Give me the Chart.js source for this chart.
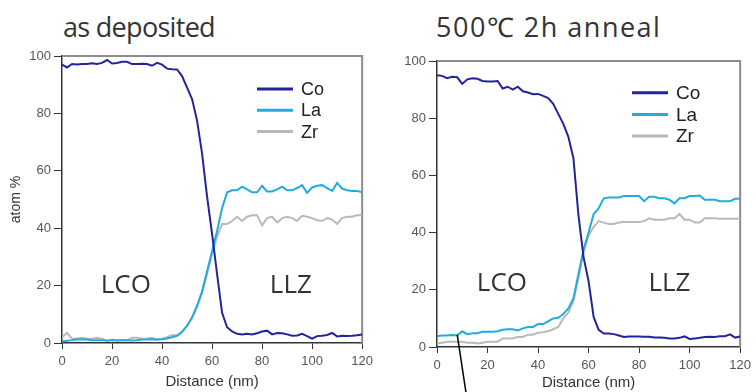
<!DOCTYPE html>
<html>
<head>
<meta charset="utf-8">
<script src="https://cdn.jsdelivr.net/npm/chart.js@4.4.0/dist/chart.umd.min.js"></script>
<style>
  html, body { margin: 0; padding: 0; background: #fff; }
  #wrap { position: relative; width: 756px; height: 392px; overflow: hidden; background: #fff; }
  canvas { position: absolute; top: 0; }
  .ttl { position: absolute; top: 13px; font-family: "Open Sans", sans-serif; font-size: 27px; line-height: 28px; color: #333; white-space: nowrap; }
</style>
</head>
<body>
<div id="wrap">
  <div class="ttl" id="t1" style="left:63px; letter-spacing:-0.7px;"></div>
  <div class="ttl" id="t2" style="left:436px; letter-spacing:1.5px;"></div>
  <canvas id="c1" width="378" height="392" style="left:0px;"></canvas>
  <canvas id="c2" width="378" height="392" style="left:378px;"></canvas>
</div>
<script>
// ---------- data ----------
const panelTitles = ["as deposited", "500\u2103 2h anneal"];
const seriesNames = ["Co", "La", "Zr"];
const regionNames = ["LCO", "LLZ"];
const xTitle = "Distance (nm)";
const yTitle = "atom %";

const distance = [0,2,4,6,8,10,12,14,16,18,20,22,24,26,28,30,32,34,36,38,40,42,44,46,48,50,52,54,56,58,60,62,64,66,68,70,72,74,76,78,80,82,84,86,88,90,92,94,96,98,100,102,104,106,108,110,112,114,116,118,120];

// as deposited
const coDep = [97,96,97.2,97,97.2,97.2,97.5,97.2,97.6,98.6,
               97.4,97.6,98,98,97.2,97.2,97.3,97.2,96.6,97.6,
               97,95.6,95.4,95.3,93,89,85,77.5,66,51,
               38,24,10.5,5.5,4,3.2,3,3.2,3,3.4,
               4,4.3,3,3.5,3.4,3,2.5,2.6,3.2,2.4,
               1.5,2.4,2.5,2.8,3.5,2.3,2.5,2.4,2.5,2.7,
               3];
const laDep = [0.5,0.8,1,1.3,1.2,1.2,1,1,1,0.8,
               1,0.9,1,1,0.9,1,1.2,1.2,1.3,1.1,
               1.3,1.6,2,2.5,3.8,6,9,13,18,25,
               32,39,47,52.5,53.2,53.2,54.5,53.5,52.5,52.5,
               54.8,52.8,52.8,53.5,54.5,53.2,53.2,54,55,52.3,
               54.2,54.8,55,54,53,55.8,53.8,53.2,53,53,
               52.5];
const zrDep = [2,3.5,1.5,1.5,1.8,1.5,1.5,1.8,1.5,0.8,
               1.2,1,1,1,1.8,1.8,1.5,1.6,1.8,1.3,
               1.5,2,2.8,2.6,4,6,8.5,12.5,17.5,24,
               31,37,41.5,41.5,42.5,44,42.5,44,44.5,44.5,
               41,43.5,44,42,43.5,44,43.5,42.5,44.3,44,
               43.5,42.8,42.5,43.5,43,41.5,43.5,44,44,44.5,
               44.5];

// 500C 2h anneal
const coAnn = [95,94.8,94,94.5,94.3,92,93.6,94,93.8,93,
               92.8,92.8,93,90.4,91,90,91,89.4,89,88.4,
               88.5,87.8,87,85,81.5,78,73.5,66,46,31.5,
               23,10.5,6,4.7,4.7,4.5,4,3.5,3.7,3.7,
               3.7,3.6,3.6,3.3,3.3,3.2,3,3,3.2,3.7,
               2.8,3,3.2,3.5,3.6,3.5,3.8,3.8,4.4,3.3,
               3.7];
const laAnn = [3.8,4,4,4.2,4,5.5,4.5,4.8,4.8,5.3,
               5.3,5.3,5.5,6,6.2,6.2,5.8,6.5,7,7,
               8,8,9,10,10.2,11.5,13.5,17,25.5,34,
               40,46.5,48.5,52,52.3,52.3,52.3,52.8,52.8,52.8,
               52.8,51,52.5,52.5,52,52,51.5,50.2,52,52,
               52.8,52.8,53,51.5,51.5,51.5,51,51,51,51.8,
               51.8];
const zrAnn = [1.2,1.5,1.8,1.8,1.8,1.8,1.5,1.5,1.2,1.5,
               1.8,1.8,1.8,3,3,3,3.5,3.5,4.3,4.3,
               5,5.2,5.5,6.2,7,10,12,16,24,33,
               39,42,44,43.5,43,43,43.5,43.7,43.7,43.7,
               43.7,44,45,44.5,44.5,44.5,45,45,46.5,44.5,
               44.5,43.5,43.5,45,45,45,44.8,44.8,44.8,44.8,
               44.8];

const xTicks = [0,20,40,60,80,100,120];
const yTicks = [0,20,40,60,80,100];

// ---------- styling ----------
const colors = ["#23239b", "#22abdc", "#b9b9b9"];

document.getElementById('t1').textContent = panelTitles[0];
document.getElementById('t2').textContent = panelTitles[1];

function pts(ys) { return distance.map((d, i) => ({ x: d, y: ys[i] })); }

const framePlugin = {
  id: 'frame',
  beforeDatasetsDraw(chart) {
    const { ctx, chartArea: a } = chart;
    ctx.save();
    ctx.strokeStyle = '#8c8c8c';
    ctx.lineWidth = 2;
    ctx.beginPath();
    ctx.moveTo(a.left, a.top);
    ctx.lineTo(a.right, a.top);
    ctx.lineTo(a.right, a.bottom);
    ctx.stroke();
    ctx.restore();
  }
};

const legendPlugin = {
  id: 'inLegend',
  afterDraw(chart, args, o) {
    const { ctx } = chart;
    ctx.save();
    chart.data.datasets.forEach((ds, i) => {
      const y = o.y + i * o.gap;
      ctx.strokeStyle = ds.borderColor;
      ctx.lineWidth = 3;
      ctx.beginPath();
      ctx.moveTo(o.x, y);
      ctx.lineTo(o.x + 36, y);
      ctx.stroke();
      ctx.fillStyle = '#222';
      ctx.font = o.size + 'px "Liberation Sans", Arial, sans-serif';
      ctx.textBaseline = 'middle';
      ctx.textAlign = 'left';
      ctx.fillText(ds.label, o.x + 44, y + 1);
    });
    ctx.restore();
  }
};

const regionPlugin = {
  id: 'regions',
  afterDraw(chart, args, o) {
    const { ctx, scales } = chart;
    ctx.save();
    ctx.fillStyle = '#333';
    ctx.font = '26px "Open Sans", sans-serif';
    ctx.textAlign = 'center';
    ctx.textBaseline = 'middle';
    o.items.forEach(it => {
      ctx.fillText(it.text, scales.x.getPixelForValue(it.x), scales.y.getPixelForValue(it.y));
    });
    ctx.restore();
  }
};

const pointerPlugin = {
  id: 'pointer',
  afterDraw(chart, args, o) {
    if (!o.show) return;
    const { ctx, scales } = chart;
    const px = scales.x.getPixelForValue(o.x), py = scales.y.getPixelForValue(o.y);
    ctx.save();
    ctx.strokeStyle = '#000';
    ctx.lineWidth = 1.5;
    ctx.beginPath();
    ctx.moveTo(px, py);
    ctx.lineTo(px + o.dx, chart.height + 2);
    ctx.stroke();
    ctx.restore();
  }
};

function makeChart(id, co, la, zr, cfg) {
  const tickFont = { family: '"Liberation Sans", Arial, sans-serif', size: 13 };
  return new Chart(document.getElementById(id), {
    type: 'line',
    data: {
      datasets: [
        { label: seriesNames[0], data: pts(co), borderColor: colors[0], borderWidth: 2, pointRadius: 0, tension: 0, order: 1 },
        { label: seriesNames[1], data: pts(la), borderColor: colors[1], borderWidth: 2, pointRadius: 0, tension: 0, order: 2 },
        { label: seriesNames[2], data: pts(zr), borderColor: colors[2], borderWidth: 2, pointRadius: 0, tension: 0, order: 3 }
      ]
    },
    options: {
      responsive: false,
      animation: false,
      devicePixelRatio: 1,
      layout: { padding: { left: 0, top: cfg.top, right: cfg.right, bottom: 0 } },
      plugins: {
        legend: { display: false },
        tooltip: { enabled: false },
        inLegend: { x: cfg.legX, y: cfg.legY, gap: cfg.legGap, size: cfg.legSize },
        regions: { items: cfg.regions },
        pointer: cfg.pointer
      },
      scales: {
        x: {
          type: 'linear', min: 0, max: 120,
          afterBuildTicks(s) { s.ticks = xTicks.map(v => ({ value: v })); },
          ticks: { color: '#555', font: tickFont, padding: 5, maxRotation: 0, autoSkip: false },
          grid: { drawOnChartArea: false, drawTicks: true, tickLength: 6, color: '#333', lineWidth: 1 },
          border: { color: '#333', width: 1.5 },
          title: { display: true, text: xTitle, color: '#333', font: { family: '"Liberation Sans", Arial, sans-serif', size: 15 }, padding: { top: 0, bottom: cfg.xTitlePad } },
          afterFit(s) { s.height = cfg.xH; }
        },
        y: {
          min: 0, max: 100,
          afterBuildTicks(s) { s.ticks = yTicks.map(v => ({ value: v })); },
          ticks: { color: '#555', font: tickFont, padding: 3 },
          grid: { drawOnChartArea: false, drawTicks: true, tickLength: 8, color: '#333', lineWidth: 1 },
          border: { color: '#333', width: 1.5 },
          title: { display: cfg.yTitle, text: yTitle, color: '#333', font: { family: '"Liberation Sans", Arial, sans-serif', size: 14 }, padding: { top: 8, bottom: 0 } },
          afterFit(s) { s.width = cfg.yW; }
        }
      }
    },
    plugins: [framePlugin, legendPlugin, regionPlugin, pointerPlugin]
  });
}

makeChart('c1', coDep, laDep, zrDep, {
  top: 56, right: 11, xH: 49, yW: 62, xTitlePad: 1, yTitle: true,
  legX: 257, legY: 89, legGap: 21.3, legSize: 18,
  regions: [{ text: regionNames[0], x: 25.5, y: 20 }, { text: regionNames[1], x: 91.5, y: 20 }],
  pointer: { show: false }
});
makeChart('c2', coAnn, laAnn, zrAnn, {
  top: 61, right: 13, xH: 45, yW: 59, xTitlePad: 0, yTitle: false,
  legX: 254, legY: 92.7, legGap: 21.7, legSize: 19,
  regions: [{ text: regionNames[0], x: 25.7, y: 22.3 }, { text: regionNames[1], x: 92, y: 22.3 }],
  pointer: { show: true, x: 8, y: 4.3, dx: 9 }
});
</script>
</body>
</html>
